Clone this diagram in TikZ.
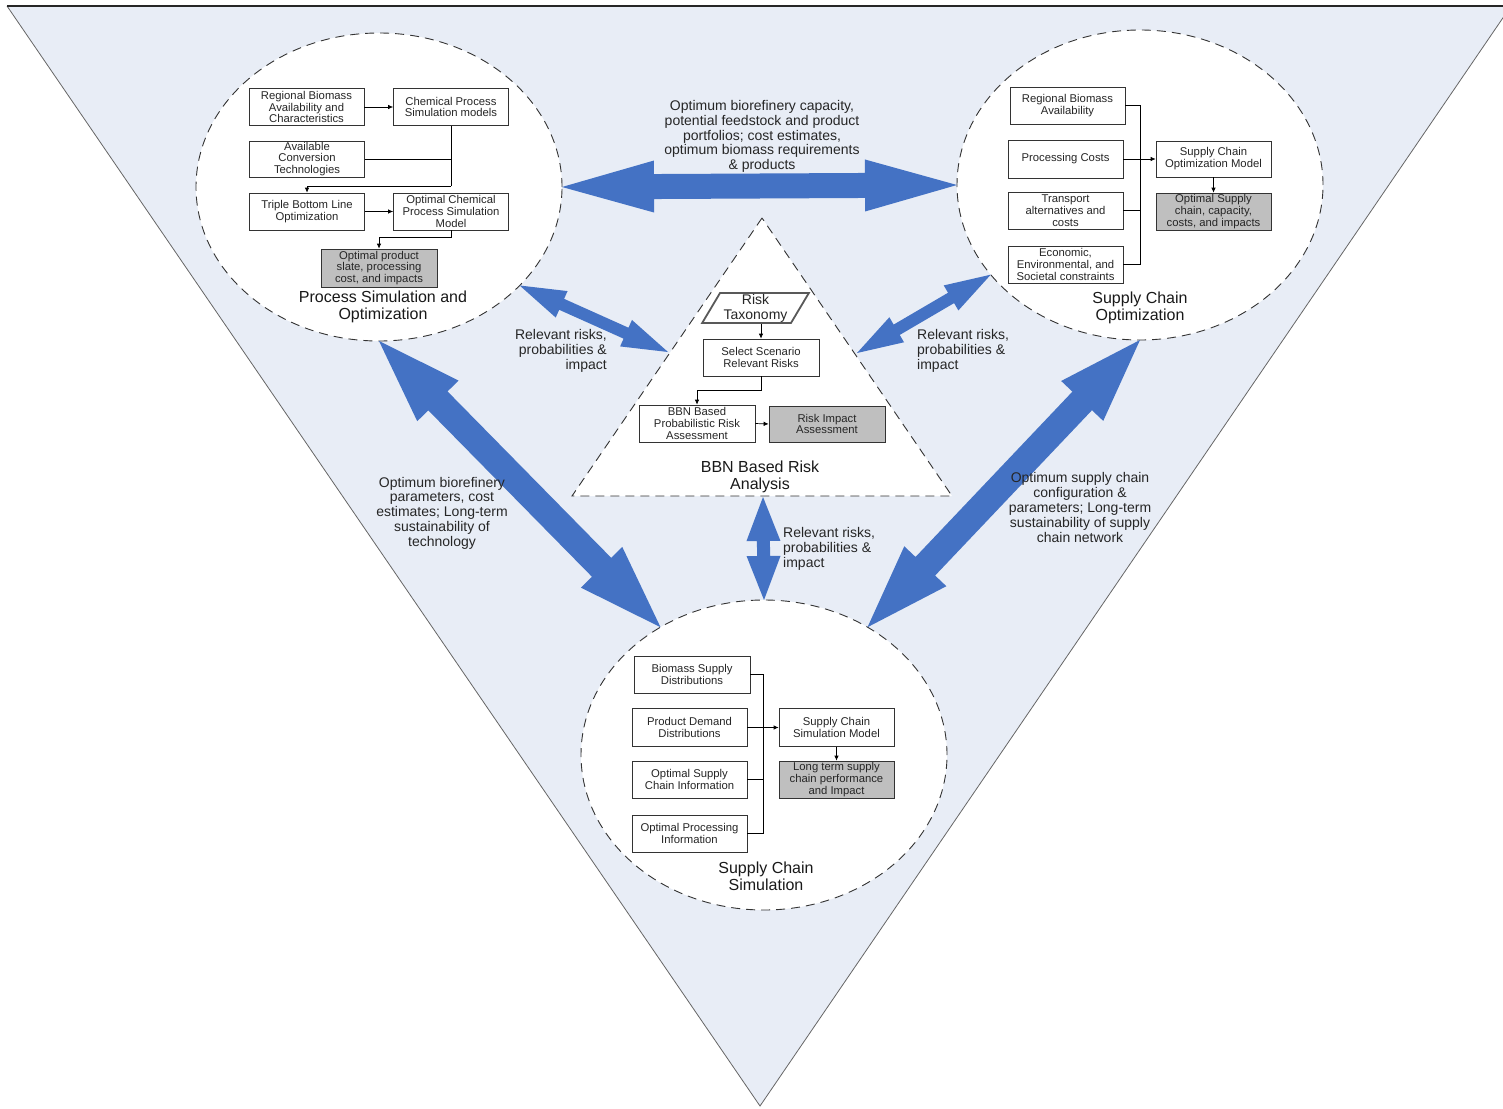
\documentclass[tikz,border=0pt]{standalone}
\usepackage{fontspec}
\setmainfont{Liberation Sans}
\usetikzlibrary{arrows.meta,calc,shapes.geometric}
\definecolor{bgblue}{HTML}{E8EDF6}
\definecolor{arrblue}{HTML}{4472C4}
\definecolor{boxgray}{HTML}{BFBFBF}
\definecolor{linegray}{HTML}{333333}
\newcommand\bluedarrow[5]{%
  \path ($(#1)!#5!(#2)$) coordinate (ha) ($(#2)!#5!(#1)$) coordinate (hb);
  \fill[arrblue] (#1) -- ($(ha)!#4!90:(#2)$) -- ($(ha)!#3!90:(#2)$)
    -- ($(hb)!#3!-90:(#1)$) -- ($(hb)!#4!-90:(#1)$) -- (#2)
    -- ($(hb)!#4!90:(#1)$) -- ($(hb)!#3!90:(#1)$)
    -- ($(ha)!#3!-90:(#2)$) -- ($(ha)!#4!-90:(#2)$) -- cycle;}
\tikzset{
  box/.style={draw=linegray, fill=white, line width=0.7pt, text=black!85,
    font=\fontsize{11.3}{11.9}\selectfont, align=center, inner sep=0pt,
    minimum width=115pt, minimum height=37pt},
  gbox/.style={box, fill=boxgray},
  conn/.style={draw=black, line width=0.7pt},
  arr/.style={conn, -{Latex[length=5pt,width=4.5pt]}},
  lbl/.style={font=\fontsize{14}{14.8}\selectfont, text=black!85, align=center, inner sep=0pt},
  ttl/.style={font=\fontsize{16}{17}\selectfont, align=center, text=black!90, inner sep=0pt},
  region/.style={ellipse, draw=linegray, fill=white, line width=0.9pt,
    dash pattern=on 9pt off 6pt, inner sep=0pt, outer sep=0pt},
}
\begin{document}
\begin{tikzpicture}[x=1pt,y=-1pt]
\useasboundingbox (0,0) rectangle (1503,1108);
% big inverted triangle
\coordinate (BL) at (7,6);
\coordinate (BR) at (1511,6);
\coordinate (BA) at (760,1106);
\fill[bgblue] (BL) -- (BR) -- (BA) -- cycle;
\draw[black!60, line width=0.8pt] (BL) -- (BA) -- (BR);
\draw[black!85, line width=1.2pt] (BL) -- (BR);
% regions
\node[region, minimum width=366pt, minimum height=308pt] (pso) at (379,187) {};
\node[region, minimum width=366pt, minimum height=310pt] (sco) at (1140,185) {};
\node[region, minimum width=366pt, minimum height=310pt] (scs) at (764,755) {};
\coordinate (ta) at (762,218);
\coordinate (tl) at (572,496);
\coordinate (tr) at (952,496);
\draw[draw=linegray, fill=white, line width=0.9pt, dash pattern=on 9pt off 6pt] (ta) -- (tl) -- (tr) -- cycle;
% blue double arrows
\coordinate (a2t) at (668,352);
\coordinate (a3t) at (857,353);
\coordinate (a6t) at (763,497);
\bluedarrow{pso.east}{sco.west}{12.5pt}{26pt}{92pt}
\bluedarrow{pso.-35}{a2t}{6pt}{14.5pt}{46pt}
\bluedarrow{a3t}{sco.211}{6pt}{14.5pt}{46pt}
\bluedarrow{pso.south}{scs.129}{13.5pt}{29pt}{84pt}
\bluedarrow{scs.51}{sco.south}{13.5pt}{29pt}{84pt}
\bluedarrow{a6t}{scs.north}{6.5pt}{17pt}{44pt}
% --- Process Simulation and Optimization
\node[box] (rb) at (306.5,107) {Regional Biomass\\Availability and\\Characteristics};
\node[box] (cp) at (451,107) {Chemical Process\\Simulation models};
\node[box, minimum height=36pt] (act) at (307,159) {Available\\Conversion\\Technologies};
\node[box] (tbl) at (307,211.5) {Triple Bottom Line\\Optimization};
\node[box] (ocp) at (451,211.5) {Optimal Chemical\\Process Simulation\\Model};
\node[gbox, minimum width=116pt, minimum height=38pt] (ops) at (379,268) {Optimal product\\slate, processing\\cost, and impacts};
\node[ttl] (psoT) at (383,306.5) {Process Simulation and\\Optimization};
\coordinate (j1) at (451,186);
\draw[arr] (rb.east) -- (cp.west);
\draw[conn] (cp.south) -- (j1);
\draw[conn] (act.east) -- (act.east -| j1);
\draw[arr] (j1) -- (j1 -| tbl.north) -- (tbl.north);
\draw[arr] (tbl.east) -- (ocp.west);
\draw[arr] (ocp.south) -- ++(0,7) -| (ops.north);
% --- Supply Chain Optimization
\coordinate (b1) at (1140,0);
\node[box] (rba) at (1067.5,105.5) {Regional Biomass\\Availability};
\node[box, minimum height=38pt] (pc) at (1065.5,159) {Processing Costs};
\node[box] (tac) at (1065.5,210.5) {Transport\\alternatives and\\costs};
\node[box] (eesc) at (1065.5,264.5) {Economic,\\Environmental, and\\Societal constraints};
\node[box, minimum height=36pt] (scom) at (1213.5,159) {Supply Chain\\Optimization Model};
\node[gbox] (osc) at (1213.5,211.5) {Optimal Supply\\chain, capacity,\\costs, and impacts};
\node[ttl] (scoT) at (1140,307.5) {Supply Chain\\Optimization};
\draw[conn] (rba.east) -- (rba.east -| b1) -- (eesc.east -| b1) -- (eesc.east);
\draw[conn] (pc.east) -- (pc.east -| b1);
\draw[conn] (tac.east) -- (tac.east -| b1);
\draw[arr] (pc.east -| b1) -- (scom.west);
\draw[arr] (scom.south) -- (osc.north);
% --- BBN Based Risk Analysis
\node[trapezium, trapezium left angle=60, trapezium right angle=120, trapezium stretches=true,
  draw=black!65, line width=1.8pt, fill=white, minimum width=107pt, minimum height=30pt,
  inner sep=0pt, font=\fontsize{14}{14.8}\selectfont, align=center, text=black!85] (rt) at (755.5,308) {Risk\\Taxonomy};
\node[box, minimum width=116pt] (sel) at (761,357.5) {Select Scenario\\Relevant Risks};
\node[box, minimum width=116pt] (bbn) at (697,423.5) {BBN Based\\Probabilistic Risk\\Assessment};
\node[gbox, minimum width=116pt, minimum height=36pt] (ria) at (827,424) {Risk Impact\\Assessment};
\node[ttl] (bbnT) at (760,476.5) {BBN Based Risk\\Analysis};
\draw[arr] (rt.south -| sel.north) -- (sel.north);
\draw[arr] (sel.south) -- ++(0,14) -| (bbn.north);
\draw[arr] (bbn.east) -- (ria.west);
% --- Supply Chain Simulation
\coordinate (b2) at (763,0);
\node[box, minimum width=116pt] (bsd) at (692,674.5) {Biomass Supply\\Distributions};
\node[box, minimum height=38pt] (pdd) at (689.5,727.5) {Product Demand\\Distributions};
\node[box] (osci) at (689.5,779.5) {Optimal Supply\\Chain Information};
\node[box] (opi) at (689.5,833.5) {Optimal Processing\\Information};
\node[box, minimum height=38pt] (scsm) at (836.5,727.5) {Supply Chain\\Simulation Model};
\node[gbox] (ltsc) at (836.5,779.5) {Long term supply\\chain performance\\and Impact};
\node[ttl] (scsT) at (766,876.5) {Supply Chain\\Simulation};
\draw[conn] (bsd.east) -- (bsd.east -| b2) -- (opi.east -| b2) -- (opi.east);
\draw[conn] (pdd.east) -- (pdd.east -| b2);
\draw[conn] (osci.east) -- (osci.east -| b2);
\draw[arr] (pdd.east -| b2) -- (scsm.west);
\draw[arr] (scsm.south) -- (ltsc.north);
% --- labels
\node[lbl] (l1) at (762,136.5) {Optimum biorefinery capacity,\\potential feedstock and product\\portfolios; cost estimates,\\optimum biomass requirements\\\& products};
\node[lbl, align=right, anchor=east] (l2) at (607,351) {Relevant risks,\\probabilities \&\\impact};
\node[lbl, align=left, anchor=west] (l3) at (917,351) {Relevant risks,\\probabilities \&\\impact};
\node[lbl] (l4) at (442,513) {Optimum biorefinery\\parameters, cost\\estimates; Long-term\\sustainability of\\technology};
\node[lbl] (l5) at (1080,507.5) {Optimum supply chain\\configuration \&\\parameters; Long-term\\sustainability of supply\\chain network};
\node[lbl, align=left, anchor=west] (l6) at (783,549) {Relevant risks,\\probabilities \&\\impact};
\end{tikzpicture}
\end{document}
